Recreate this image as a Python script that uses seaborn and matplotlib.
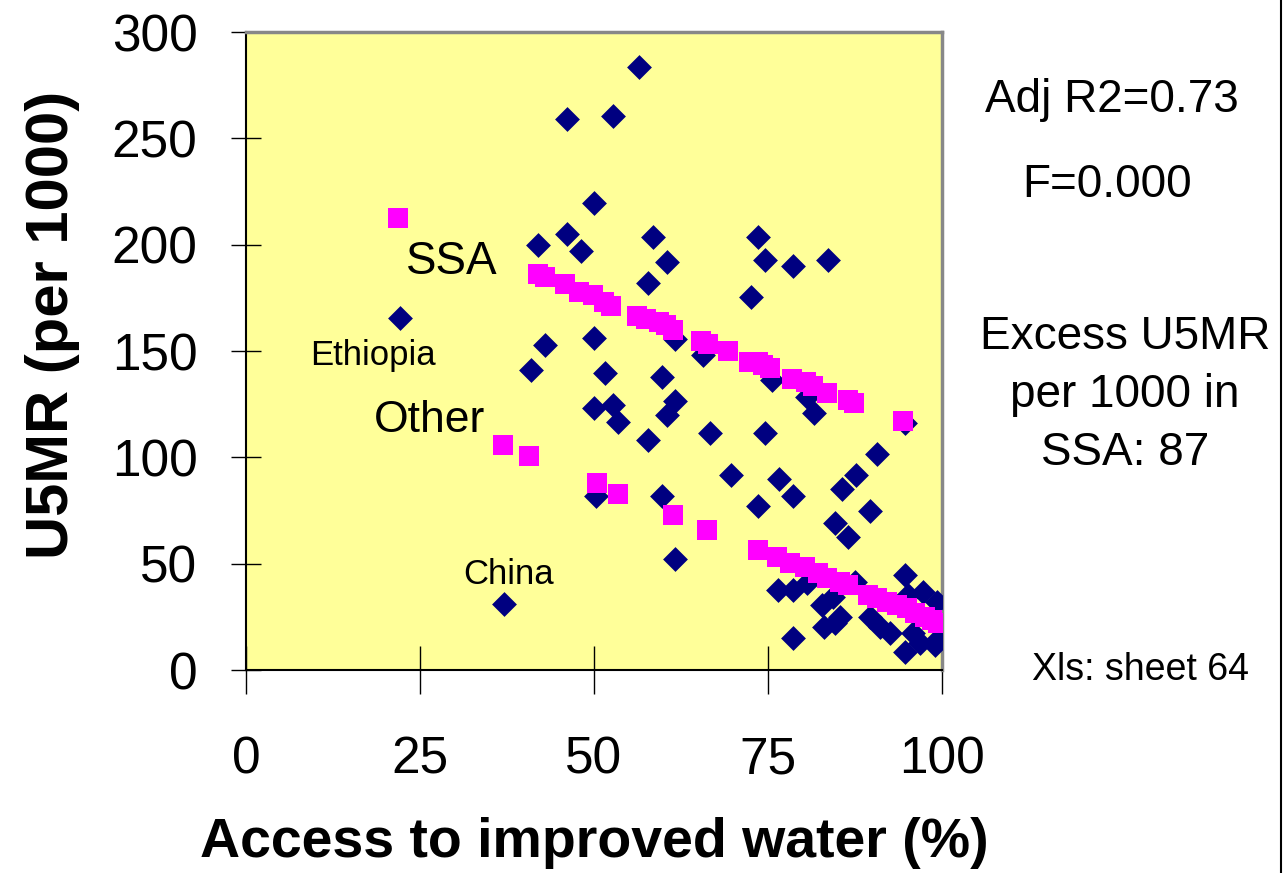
import numpy as np
import pandas as pd
import matplotlib
matplotlib.use("Agg")
import matplotlib.pyplot as plt
import seaborn as sns
from matplotlib.lines import Line2D

# observed countries: access to improved water (%) vs under-5 mortality
water = [22.1, 37.0, 41.0, 42.0, 43.0, 46.1, 46.1, 48.1, 50.0, 50.0,
         50.0, 50.3, 51.6, 52.7, 52.7, 53.5, 56.5, 57.7, 57.7, 58.5,
         59.7, 59.7, 60.5, 60.5, 61.6, 61.6, 61.6, 65.6, 66.6, 69.7,
         72.5, 73.6, 73.6, 74.6, 74.6, 75.6, 76.6, 76.5, 78.6, 78.6,
         78.6, 78.6, 80.6, 80.6, 81.6, 82.8, 83.0, 83.6, 84.6, 84.6,
         85.4, 85.7, 86.5, 87.5, 87.7, 89.7, 89.7, 90.7, 91.1, 92.5,
         94.7, 94.7, 94.7, 95.1, 95.8, 96.8, 97.3, 99.0, 99.3, 84.4,
         99.6]
u5mr = [165.5, 31, 141, 200, 153, 259, 205, 197, 219.5, 156,
        123, 82, 139.5, 260.5, 124.6, 116.6, 283.5, 182, 108, 203.5,
        137.8, 81.8, 192, 120, 126.3, 155.6, 52, 148, 111.4, 91.7,
        175.5, 203.5, 77, 193, 111.4, 136.3, 90, 37.6, 190, 81.8,
        37.6, 15, 128.4, 40.9, 120.8, 30.6, 20.2, 193, 69, 22,
        25, 85, 62.5, 41.4, 91.7, 75, 25, 101.6, 20.2, 17.4,
        116, 44.7, 8.5, 35.3, 17.4, 12.7, 36.7, 11.8, 32, 34.3,
        15]

# fitted values, SSA countries
ssa_water = [21.8, 41.9, 42.9, 45.8, 47.8, 49.8, 51.4, 52.4, 56.2, 57.4,
             59.3, 60.4, 61.4, 65.4, 66.4, 69.3, 72.3, 73.5, 74.3, 75.3,
             78.5, 80.5, 81.5, 83.5, 86.5, 87.4, 94.4]
ssa_fit = [212.5, 186.4, 184.8, 181.5, 177.7, 176.3, 173, 171.3, 166.4, 165,
           163.6, 162.2, 159.9, 154.7, 153.3, 150, 144.8, 144.8, 143.4, 142,
           136.8, 135.4, 133.7, 130.2, 127, 125.5, 117]

# fitted values, other countries
other_water = [36.9, 40.7, 50.4, 53.4, 61.4, 66.3, 73.5, 76.3, 78.2, 80.3,
               82.2, 83.5, 85.4, 86.5, 89.4, 90.7, 92.1, 93.5, 95.0, 96.1,
               97.6, 98.6, 99.4]
other_fit = [105.8, 100.6, 88, 82.7, 72.9, 66, 56.4, 53.1, 50.3, 48.4,
             45.6, 43.3, 41.4, 40, 35.3, 33.9, 32, 30.6, 29.1, 26.8,
             24.9, 23.5, 22.1]

sns.set_style("white")
plt.rcParams["font.family"] = ["Liberation Sans", "DejaVu Sans"]
plt.rcParams["text.color"] = "black"
plt.rcParams["axes.labelcolor"] = "black"

fig = plt.figure(figsize=(12.86, 8.73), dpi=100)
ax = fig.add_axes([0.1913, 0.2325, 0.5412, 0.7308])
ax.set_facecolor("#FFFF99")

sns.scatterplot(x=water, y=u5mr, marker="D", s=160, color="#000080",
                linewidth=0, ax=ax, zorder=3)
sns.scatterplot(x=ssa_water, y=ssa_fit, marker="s", s=210, color="#FF00FF",
                linewidth=0, ax=ax, zorder=4)
sns.scatterplot(x=other_water, y=other_fit, marker="s", s=210, color="#FF00FF",
                linewidth=0, ax=ax, zorder=4)

ax.set_xlim(0, 100)
ax.set_ylim(0, 300)
ax.set_xticks([0, 25, 50, 75, 100])
ax.set_yticks(np.arange(0, 301, 50))
ax.tick_params(axis="y", left=True, direction="inout", length=22, width=1,
               labelsize=37, pad=24, colors="black")
ax.tick_params(axis="x", bottom=True, direction="inout", length=35, width=1,
               labelsize=37, pad=30, colors="black")
for side in ["top", "right"]:
    ax.spines[side].set_color("#888888")
    ax.spines[side].set_linewidth(2.5)
for side in ["left", "bottom"]:
    ax.spines[side].set_color("black")
    ax.spines[side].set_linewidth(1.5)

ax.set_xlabel("Access to improved water (%)", fontsize=40, fontweight="bold")
ax.xaxis.set_label_coords(0.5, -0.23)
ax.set_ylabel("U5MR (per 1000)", fontsize=43, fontweight="bold")
ax.yaxis.set_label_coords(-0.238, 0.541)

ax.text(29.6, 191.8, "SSA", fontsize=33, ha="center", va="center")
ax.text(26.3, 117.5, "Other", fontsize=32, ha="center", va="center")
ax.text(18.2, 148, "Ethiopia", fontsize=25, ha="center", va="center")
ax.text(37.7, 45.1, "China", fontsize=25, ha="center", va="center")

fig.text(0.8647, 0.8855, "Adj R2=0.73", fontsize=33, ha="center", va="center")
fig.text(0.8608, 0.7881, "F=0.000", fontsize=33, ha="center", va="center")
fig.text(0.8748, 0.5475, "Excess U5MR\nper 1000 in\nSSA: 87", fontsize=33,
         ha="center", va="center", linespacing=1.4)
fig.text(0.8872, 0.2325, "Xls: sheet 64", fontsize=27, ha="center", va="center")

fig.add_artist(Line2D([0.9965, 0.9965], [0, 1], color="black", lw=1.5,
                      transform=fig.transFigure))

fig.savefig("out.png", dpi=100)
